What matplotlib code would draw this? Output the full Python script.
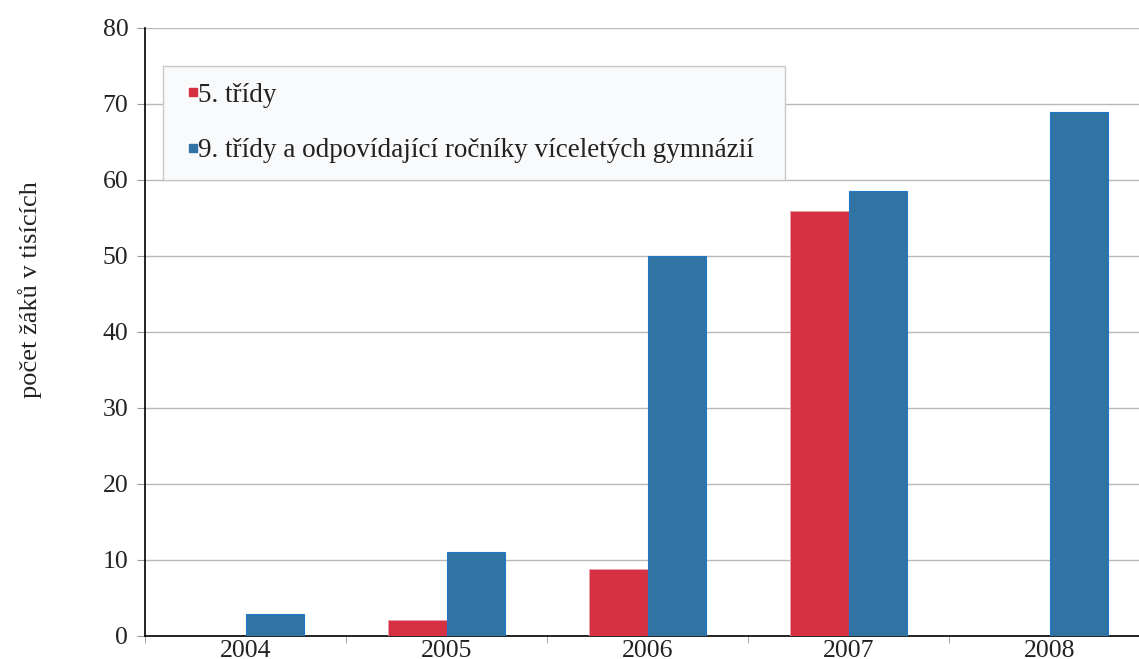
import numpy as np
import matplotlib
matplotlib.use('Agg')
import matplotlib.pyplot as plt
from matplotlib.lines import Line2D

years = ["2004", "2005", "2006", "2007", "2008"]
grade5 = [0, 2.1, 8.8, 55.9, 0]
grade9 = [2.9, 11.0, 50.0, 58.6, 68.9]
labels = ["5. třídy", "9. třídy a odpovídající ročníky víceletých gymnázií"]

RED = "#d63043"
BLUE = "#3174a3"

plt.rcParams['font.family'] = ['Liberation Serif', 'DejaVu Serif']

fig = plt.figure(figsize=(11.39, 6.59), dpi=100)
ax = fig.add_axes([145 / 1139, 1 - 636 / 659, 1005 / 1139, 608 / 659])

x = np.arange(len(years))
w = 0.29
ax.bar(x - w / 2, grade5, w, color=RED, edgecolor="#e8a0a8", linewidth=0.6, zorder=3)
ax.bar(x + w / 2, grade9, w, color=BLUE, edgecolor="#1f78c8", linewidth=0.8, zorder=3)

ax.set_xlim(-0.5, 4.5)
ax.set_ylim(0, 80)
ax.set_yticks(range(0, 81, 10))
ax.yaxis.grid(True, color="#b8b8b8", linewidth=1.0, zorder=0)
ax.set_axisbelow(True)

ax.set_xticks(x)
ax.set_xticklabels(years)
ax.set_xticks(np.arange(-0.5, 5, 1), minor=True)
ax.tick_params(axis='x', which='major', length=0, pad=3, labelsize=18.5, colors="#222222")
ax.tick_params(axis='x', which='minor', length=5, color="#999999", direction='out')
ax.tick_params(axis='y', length=6, color="#999999", pad=6, labelsize=18.5, labelcolor="#222222")

for s in ["top", "right"]:
    ax.spines[s].set_visible(False)
ax.spines["left"].set_color("black")
ax.spines["bottom"].set_color("black")
ax.spines["left"].set_linewidth(1.2)
ax.spines["bottom"].set_linewidth(1.2)

ax.set_ylabel("počet žáků v tisících", fontsize=19, color="#222222")
ax.yaxis.set_label_coords(-0.1025, 0.569)

handles = [Line2D([], [], marker='s', linestyle='none', markersize=6, color=RED),
           Line2D([], [], marker='s', linestyle='none', markersize=6, color=BLUE)]
leg = ax.legend(handles, labels, loc='upper left',
                bbox_to_anchor=(0.0179, 0.7516, 0.619, 0.186), mode="expand",
                fontsize=19.5, frameon=True, fancybox=False,
                handlelength=1.0, handletextpad=-0.33, labelspacing=1.13,
                borderpad=0.62, borderaxespad=0)
leg.get_frame().set_facecolor("#f9fafc")
leg.get_frame().set_edgecolor("#c8c8c8")
leg.get_frame().set_linewidth(1.0)
leg.get_frame().set_alpha(1)
for t in leg.get_texts():
    t.set_color("#222222")

fig.savefig("out.png", dpi=100)
